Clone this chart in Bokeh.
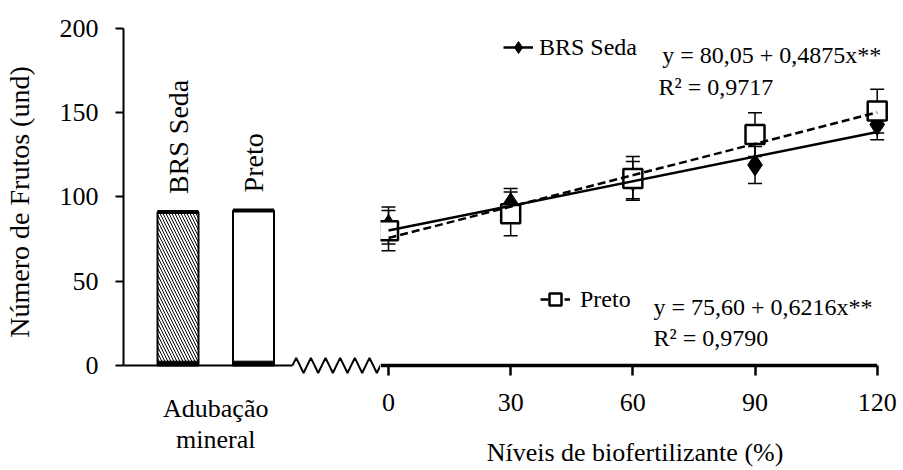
import math
from bokeh.plotting import figure
from bokeh.layouts import row
from bokeh.models import (ColumnDataSource, Whisker, TeeHead, FixedTicker, Legend,
                          LegendItem, Label, Range1d)
from bokeh.core.properties import value
from bokeh.embed import file_html
from bokeh.resources import INLINE

FONT = "Liberation Serif"

# ---------------- data ----------------
cultivars = ["BRS Seda", "Preto"]
mineral_values = [91, 92]
mineral_group_label = "Adubação\nmineral"
bar_hatch = ["\\", " "]

levels = [0, 30, 60, 90, 120]
seda_values = [83, 96, 110, 119, 143]
seda_errors = [11, 9, 11, 11, 9]
preto_values = [80, 90, 111, 137, 151]
preto_errors = [12, 13, 13, 13, 13]

seda_coef = [80.05, 0.4875]
preto_coef = [75.60, 0.6216]
seda_eq = "y = 80,05 + 0,4875x**"
seda_r2 = "R² = 0,9717"
preto_eq = "y = 75,60 + 0,6216x**"
preto_r2 = "R² = 0,9790"

y_ticks = [0, 50, 100, 150, 200]
x_ticks = [0, 30, 60, 90, 120]
y_title = "Número de Frutos (und)"
x_title = "Níveis de biofertilizante (%)"

# ---------------- layout constants ----------------
Y_RANGE = (-6, 200)
H = 469
TOP, BOTTOM = 28, 93
LEFT_X = (0.278, 3.682)
RIGHT_X = (-1.964, 123.02)
BAR_W = 0.543
ZIG_START = 2.517
ZIG_AMP = 4.5
ZIG_HALVES = 12


def style_common(p):
    p.outline_line_color = None
    p.xgrid.visible = False
    p.ygrid.visible = False
    p.background_fill_color = "white"
    p.border_fill_color = "white"


# ---------------- left panel: mineral fertilization bars ----------------
left = figure(width=380, height=H, x_range=Range1d(*LEFT_X), y_range=Range1d(*Y_RANGE),
              output_backend="svg", toolbar_location=None,
              min_border_left=123, min_border_right=0, min_border_top=TOP, min_border_bottom=BOTTOM)
style_common(left)

bar_x = [i + 1 for i in range(len(cultivars))]
bsrc = ColumnDataSource(dict(x=bar_x, top=mineral_values, name=cultivars, hatch=bar_hatch,
                             x0=[x - BAR_W / 2 for x in bar_x], x1=[x + BAR_W / 2 for x in bar_x]))
left.vbar(x="x", top="top", width=BAR_W, source=bsrc, fill_color="white", line_color="black",
          line_width=2, hatch_pattern="hatch", hatch_color="black", hatch_scale=6, hatch_weight=1)
left.vbar(x="x", top=2.5, bottom=0, width=BAR_W, source=bsrc, fill_color="black", line_color="black")
left.segment(x0="x0", x1="x1", y0="top", y1="top", source=bsrc, line_width=4, line_color="black")
left.text(x="x", y="top", text="name", source=bsrc, angle=math.pi / 2, text_align="left",
          text_baseline="middle", y_offset=-18, text_font=value(FONT), text_font_size="28px",
          text_color="black")

# broken x-axis line with zigzag
left.segment(x0=[LEFT_X[0]], y0=[0], x1=[ZIG_START], y1=[0], line_width=2, line_color="black")
zx, zy = [], []
step = (LEFT_X[1] - ZIG_START) / ZIG_HALVES
for i in range(ZIG_HALVES * 2 + 1):
    zx.append(ZIG_START + i * step / 2)
    zy.append([0, ZIG_AMP, 0, -ZIG_AMP][i % 4])
left.line(zx, zy, line_width=2, line_color="black")

xa = left.xaxis[0]
mid = (bar_x[0] + bar_x[-1]) / 2
xa.ticker = FixedTicker(ticks=[mid])
xa.major_label_overrides = {mid: mineral_group_label}
xa.axis_line_color = None
xa.major_tick_line_color = None
xa.minor_tick_line_color = None
xa.major_tick_out = 0
xa.major_tick_in = 0
xa.major_label_standoff = 18
xa.major_label_text_font = FONT
xa.major_label_text_font_size = "26px"
xa.major_label_text_color = "black"
xa.major_label_text_line_height = 1.1

ya = left.yaxis[0]
ya.ticker = FixedTicker(ticks=y_ticks)
ya.bounds = (y_ticks[0], y_ticks[-1])
ya.axis_line_width = 2
ya.axis_line_color = "black"
ya.major_tick_line_width = 2
ya.major_tick_line_color = "black"
ya.major_tick_out = 8
ya.major_tick_in = 0
ya.minor_tick_line_color = None
ya.major_label_standoff = 17
ya.major_label_text_font = FONT
ya.major_label_text_font_size = "26px"
ya.major_label_text_color = "black"
ya.axis_label = y_title
ya.axis_label_text_font = FONT
ya.axis_label_text_font_size = "28px"
ya.axis_label_text_font_style = "normal"
ya.axis_label_text_color = "black"
ya.axis_label_standoff = 22

# ---------------- right panel: biofertilizer levels ----------------
right = figure(width=522, height=H, x_range=Range1d(*RIGHT_X), y_range=Range1d(*Y_RANGE),
               output_backend="svg", toolbar_location=None, y_axis_location=None,
               min_border_left=0, min_border_right=13, min_border_top=TOP, min_border_bottom=BOTTOM)
style_common(right)

right.segment(x0=[RIGHT_X[0]], y0=[0], x1=[x_ticks[-1]], y1=[0], line_width=3.5, line_color="black")

ssrc = ColumnDataSource(dict(x=levels, y=seda_values,
                             upper=[v + e for v, e in zip(seda_values, seda_errors)],
                             lower=[v - e for v, e in zip(seda_values, seda_errors)]))
psrc = ColumnDataSource(dict(x=levels, y=preto_values,
                             upper=[v + e for v, e in zip(preto_values, preto_errors)],
                             lower=[v - e for v, e in zip(preto_values, preto_errors)]))
for src in (ssrc, psrc):
    w = Whisker(source=src, base="x", upper="upper", lower="lower", line_width=1.5,
                line_color="black",
                upper_head=TeeHead(size=14, line_width=1.5, line_color="black"),
                lower_head=TeeHead(size=14, line_width=1.5, line_color="black"))
    right.add_layout(w)

seda_sc = right.scatter("x", "y", source=ssrc, marker="diamond", size=22,
                        fill_color="black", line_color="black", line_width=1)
preto_sc = right.scatter("x", "y", source=psrc, marker="square", size=19,
                         fill_color="white", line_color="black", line_width=2.5)

fit_x = [levels[0], levels[-1]]
seda_line = right.line(fit_x, [seda_coef[0] + seda_coef[1] * x for x in fit_x],
                       line_width=2.5, line_color="black")
preto_line = right.line(fit_x, [preto_coef[0] + preto_coef[1] * x for x in fit_x],
                        line_width=2.5, line_color="black", line_dash="8 4")


def make_legend(label, rends, loc, standoff):
    lg = Legend(items=[LegendItem(label=label, renderers=rends)], location=loc,
                border_line_color=None, background_fill_alpha=0, padding=0, margin=0,
                spacing=0, glyph_width=30, glyph_height=30, label_height=26,
                label_standoff=standoff, label_text_font=FONT, label_text_font_size="24px",
                label_text_color="black")
    right.add_layout(lg)


make_legend(cultivars[0], [seda_line, seda_sc], (123, 313), 6)
make_legend(cultivars[1], [preto_line, preto_sc], (160, 61), 10)

for txt, lx, ly in [(seda_eq, 281.7, 320.3), (seda_r2, 278, 288.7),
                    (preto_eq, 273, 68.7), (preto_r2, 273, 37.7)]:
    right.add_layout(Label(x=lx, y=ly, x_units="screen", y_units="screen", text=txt,
                           text_font=FONT, text_font_size="24px", text_color="black",
                           text_baseline="alphabetic"))

rx = right.xaxis[0]
rx.ticker = FixedTicker(ticks=x_ticks)
rx.axis_line_color = None
rx.major_tick_line_color = "black"
rx.major_tick_line_width = 2.5
rx.major_tick_in = 10
rx.major_tick_out = 0
rx.minor_tick_line_color = None
rx.major_label_standoff = 18
rx.major_label_text_font = FONT
rx.major_label_text_font_size = "26px"
rx.major_label_text_color = "black"
rx.axis_label = x_title
rx.axis_label_text_font = FONT
rx.axis_label_text_font_size = "26px"
rx.axis_label_text_font_style = "normal"
rx.axis_label_text_color = "black"
rx.axis_label_standoff = 24

layout = row(left, right, spacing=0)
open("out.html", "w").write(file_html(layout, INLINE))
